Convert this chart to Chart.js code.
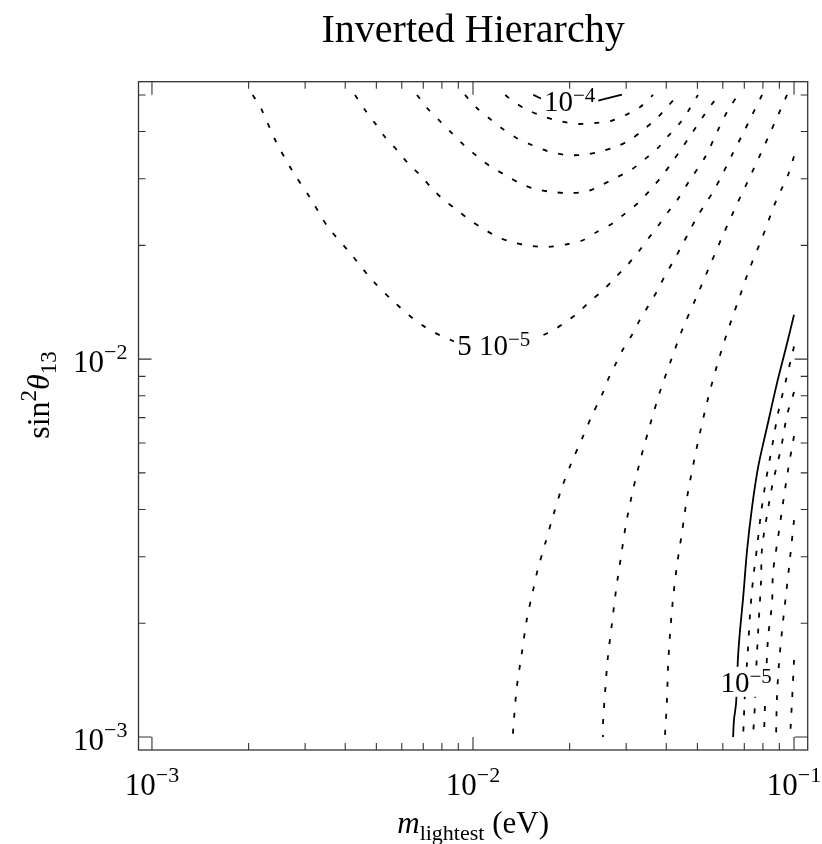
<!DOCTYPE html>
<html>
<head>
<meta charset="UTF-8">
<title>Inverted Hierarchy</title>
<script src="https://cdn.jsdelivr.net/npm/chart.js"></script>
<style>
    html, body { margin: 0; padding: 0; background: #fff; }
    #chart { display: block; }
</style>
</head>
<body>
<canvas id="chart" width="822" height="844"></canvas>
<script>
    // contours as [m_lightest (eV), sin^2 theta13]
    const arcTop = [[0.0154,0.050],[0.0171,0.0482],[0.0198,0.0473],[0.0223,0.0476],[0.0245,0.0483],[0.0267,0.0492],[0.0291,0.0501]];
    const arc2 = [[0.0126,0.050],[0.0133,0.0482],[0.0148,0.0456],[0.0168,0.0437],[0.0187,0.0426],[0.0211,0.0419],[0.0237,0.0421],[0.0267,0.0426],[0.0298,0.0442],[0.0331,0.0464],[0.0364,0.050]];
    const arc3 = [[0.00944,0.050],[0.0103,0.0461],[0.0113,0.0432],[0.0124,0.0406],[0.0137,0.0384],[0.0153,0.0368],[0.0171,0.0355],[0.0194,0.0347],[0.0219,0.0347],[0.0245,0.0353],[0.0277,0.0364],[0.0308,0.0380],[0.0339,0.0404],[0.0374,0.0434],[0.0405,0.0467],[0.0435,0.050]];
    const arc4 = [[0.00669,0.050],[0.00724,0.0459],[0.00789,0.0426],[0.0086,0.0396],[0.00938,0.0368],[0.0103,0.0344],[0.0113,0.0324],[0.0126,0.0307],[0.0140,0.0292],[0.0156,0.0282],[0.0176,0.0277],[0.0199,0.0275],[0.0227,0.0278],[0.0252,0.0289],[0.0281,0.0303],[0.0313,0.0318],[0.0343,0.0338],[0.0377,0.0362],[0.0405,0.0389],[0.0441,0.0421],[0.0474,0.0461],[0.0502,0.050]];
    const arc5 = [[0.00429,0.050],[0.00461,0.0456],[0.00495,0.0421],[0.00532,0.0387],[0.0058,0.0357],[0.00627,0.0330],[0.00684,0.0307],[0.00745,0.0283],[0.00806,0.0265],[0.00892,0.0248],[0.00979,0.0233],[0.0107,0.0222],[0.0120,0.0210],[0.0135,0.0203],[0.0153,0.0199],[0.0171,0.0198],[0.0194,0.0201],[0.0219,0.0206],[0.0243,0.0217],[0.0271,0.0228],[0.0298,0.0243],[0.0327,0.0259],[0.0356,0.0280],[0.0388,0.0305],[0.0417,0.0332],[0.0448,0.0362],[0.0481,0.0396],[0.0517,0.0434],[0.0555,0.0473],[0.0588,0.050]];
    const arc6 = [[0.00206,0.050],[0.00220,0.0456],[0.00242,0.0380],[0.00273,0.0316],[0.00311,0.0267],[0.00353,0.0224],[0.00414,0.0191],[0.00485,0.0162],[0.00571,0.0141],[0.00694,0.0123],[0.0086,0.0112],[0.0105,0.0108],[0.0121,0.0108],[0.0145,0.0111],[0.0174,0.0118],[0.0191,0.0124],[0.0211,0.0132],[0.0231,0.0142],[0.0254,0.0152],[0.0277,0.0164],[0.0302,0.0177],[0.0327,0.0192],[0.0351,0.0208],[0.0377,0.0225],[0.0405,0.0245],[0.0432,0.0263],[0.0474,0.0298],[0.0528,0.0342],[0.0580,0.0404],[0.0623,0.0456],[0.0669,0.050]];
    const rise1 = [[0.0795,0.050],[0.0740,0.0442],[0.0689,0.0391],[0.0641,0.0347],[0.0597,0.0307],[0.0559,0.0277],[0.0532,0.0259],[0.0499,0.0238],[0.0471,0.0217],[0.0445,0.0198],[0.0420,0.0181],[0.0396,0.0166],[0.0374,0.0151],[0.0351,0.0138],[0.0331,0.0127],[0.0313,0.0116],[0.0293,0.0106],[0.0277,0.00964],[0.0263,0.0088],[0.0252,0.00803],[0.0235,0.00711],[0.0219,0.00618],[0.0203,0.00534],[0.0189,0.00456],[0.0178,0.00387],[0.0168,0.00326],[0.0159,0.00277],[0.0154,0.00245],[0.0147,0.00204],[0.0142,0.00167],[0.0137,0.00136],[0.0134,0.0011],[0.0133,0.001]];
    const rise2 = [[0.0951,0.050],[0.0836,0.0391],[0.0740,0.0312],[0.0664,0.0257],[0.0601,0.0213],[0.0544,0.0175],[0.0495,0.0145],[0.0451,0.0121],[0.0414,0.00994],[0.0382,0.00818],[0.0356,0.00669],[0.0334,0.00551],[0.0315,0.0045],[0.0300,0.00368],[0.0289,0.0030],[0.0279,0.00245],[0.0271,0.0020],[0.0263,0.00162],[0.0258,0.00132],[0.0254,0.00108],[0.0254,0.001]];
    const rise3 = [[0.100,0.0344],[0.0958,0.0307],[0.0911,0.0280],[0.0866,0.0254],[0.0795,0.0209],[0.0724,0.0172],[0.0669,0.0142],[0.0618,0.0117],[0.0576,0.00964],[0.0540,0.00789],[0.0510,0.00641],[0.0485,0.00524],[0.0464,0.00429],[0.0448,0.00349],[0.0432,0.00285],[0.0420,0.00233],[0.0411,0.00188],[0.0405,0.00153],[0.0402,0.00125],[0.0396,0.001]];
    const solid1e5 = [[0.100,0.0131],[0.0951,0.0110],[0.0885,0.00864],[0.0824,0.00661],[0.0773,0.00518],[0.0740,0.00406],[0.0714,0.00312],[0.0694,0.00233],[0.0679,0.00192],[0.0669,0.00162],[0.0660,0.00123],[0.0650,0.00111],[0.0646,0.001]];
    const edge1 = [[0.100,0.0108],[0.0944,0.0088],[0.0892,0.0072],[0.0854,0.00585],[0.0818,0.00479],[0.0789,0.00391],[0.0767,0.00318],[0.0745,0.0026],[0.0729,0.0021],[0.0719,0.00172],[0.0704,0.00133],[0.0694,0.001]];
    const edge2 = [[0.100,0.00818],[0.0951,0.00711],[0.0911,0.00581],[0.0860,0.00473],[0.0824,0.00387],[0.0795,0.00316],[0.0789,0.00257],[0.0773,0.0019],[0.0761,0.00146],[0.0756,0.00123],[0.0745,0.001]];
    const edge3 = [[0.100,0.00626],[0.0958,0.00509],[0.0924,0.00416],[0.0892,0.00338],[0.0860,0.00272],[0.0854,0.00226],[0.0830,0.00183],[0.0818,0.00142],[0.0812,0.00122],[0.0806,0.001]];
    const edge4 = [[0.100,0.00375],[0.0972,0.00298],[0.0944,0.00238],[0.0918,0.00192],[0.0898,0.00157],[0.0885,0.00128],[0.0879,0.001]];
    const edge5 = [[0.100,0.0016],[0.0986,0.00125],[0.0972,0.001]];

    const dashedCurves = [arc2, arc3, arc4, arc5, arc6, rise1, rise2, rise3, edge1, edge2, edge3, edge4, edge5];
    const solidCurves = [arcTop, solid1e5];

    // contour labels: mantissa, exponent, where they sit
    const contourLabels = [
        {text: '10', sup: '\u22124', m: 0.0200, s: 0.0482},
        {text: '5 10', sup: '\u22125', m: 0.0116, s: 0.0109},
        {text: '10', sup: '\u22125', m: 0.0709, s: 0.0014}
    ];

    // axes
    const xMin = 0.000908, xMax = 0.1103;
    const yMin = 0.000924, yMax = 0.0542;
    const xMajor = [0.001, 0.01, 0.1];
    const xMajorLabels = ['\u22123', '\u22122', '\u22121'];
    const xMinor = [0.002, 0.003, 0.004, 0.005, 0.006, 0.007, 0.008, 0.009,
                    0.02, 0.03, 0.04, 0.05, 0.06, 0.07, 0.08, 0.09];
    const yMajor = [0.001, 0.01];
    const yMajorLabels = ['\u22123', '\u22122'];
    const yMinor = [0.002, 0.003, 0.004, 0.005, 0.006, 0.007, 0.008, 0.009, 0.02, 0.03, 0.04, 0.05];

    const SERIF = "'Liberation Serif', 'Times New Roman', 'DejaVu Serif', serif";

    function setFont(ctx, p) {
        ctx.font = (p[3] ? 'italic ' : '') + p[1] + 'px ' + SERIF;
    }

    function measurePieces(ctx, pieces) {
        let w = 0;
        pieces.forEach(p => { setFont(ctx, p); p.w = ctx.measureText(p[0]).width; w += p.w; });
        return w;
    }

    // draws a run of [text, size, rise, italic] pieces
    function drawPieces(ctx, pieces, x, y, align) {
        const w = measurePieces(ctx, pieces);
        let cx = align === 'center' ? x - w / 2 : (align === 'right' ? x - w : x);
        ctx.textAlign = 'left';
        ctx.textBaseline = 'alphabetic';
        pieces.forEach(p => {
            setFont(ctx, p);
            ctx.fillText(p[0], cx, y - p[2]);
            cx += p.w;
        });
    }

    const framePlugin = {
        id: 'mmaFrame',
        afterDatasetsDraw(chart) {
            const {ctx, chartArea: a} = chart;
            const xs = chart.scales.x, ys = chart.scales.y;
            ctx.save();

            // contour labels on white patches
            contourLabels.forEach(l => {
                const cx = xs.getPixelForValue(l.m);
                const cy = ys.getPixelForValue(l.s);
                const pieces = [[l.text, 29, 0], [l.sup, 21, 9]];
                const w = measurePieces(ctx, pieces);
                ctx.fillStyle = '#fff';
                ctx.fillRect(cx - w / 2 - 3, cy - 15, w + 6, 30);
                ctx.fillStyle = '#000';
                drawPieces(ctx, pieces, cx, cy + 10, 'center');
            });

            // frame
            ctx.strokeStyle = '#333';
            ctx.lineWidth = 1.3;
            ctx.strokeRect(a.left, a.top, a.right - a.left, a.bottom - a.top);

            // ticks on all four sides, pointing in
            ctx.lineWidth = 1.1;
            ctx.beginPath();
            const tx = (v, len) => {
                const p = xs.getPixelForValue(v);
                ctx.moveTo(p, a.bottom); ctx.lineTo(p, a.bottom - len);
                ctx.moveTo(p, a.top); ctx.lineTo(p, a.top + len);
            };
            const ty = (v, len) => {
                const p = ys.getPixelForValue(v);
                ctx.moveTo(a.left, p); ctx.lineTo(a.left + len, p);
                ctx.moveTo(a.right, p); ctx.lineTo(a.right - len, p);
            };
            xMajor.forEach(v => tx(v, 13));
            xMinor.forEach(v => tx(v, 7));
            yMajor.forEach(v => ty(v, 13));
            yMinor.forEach(v => ty(v, 7));
            ctx.stroke();

            ctx.fillStyle = '#000';
            // tick labels
            xMajor.forEach((v, i) => {
                drawPieces(ctx, [['10', 31, 0], [xMajorLabels[i], 22, 13]],
                    xs.getPixelForValue(v), a.bottom + 45, 'center');
            });
            yMajor.forEach((v, i) => {
                drawPieces(ctx, [['10', 31, 0], [yMajorLabels[i], 22, 13]],
                    a.left - 11, ys.getPixelForValue(v) + 13, 'right');
            });

            // title and axis titles
            const mid = (a.left + a.right) / 2;
            drawPieces(ctx, [['Inverted Hierarchy', 40, 0]], mid, 42, 'center');
            drawPieces(ctx, [['m', 31, 0, true], ['lightest', 22, -7], [' (eV)', 31, 0]], mid, 833, 'center');

            ctx.translate(49, 395);
            ctx.rotate(-Math.PI / 2);
            drawPieces(ctx, [['sin', 32, 0], ['2', 23, 13], ['\u03b8', 32, 0, true], ['13', 23, -7]], 0, 0, 'center');
            ctx.restore();
        }
    };

    const dashStyle = {borderColor: '#000', borderWidth: 1.8, borderDash: [5, 11], pointRadius: 0, showLine: true, tension: 0.3, fill: false};
    const solidStyle = {borderColor: '#000', borderWidth: 1.8, pointRadius: 0, showLine: true, tension: 0.3, fill: false};

    new Chart(document.getElementById('chart'), {
        type: 'scatter',
        data: {
            datasets: [
                ...dashedCurves.map(d => Object.assign({data: d}, dashStyle)),
                ...solidCurves.map(d => Object.assign({data: d}, solidStyle))
            ]
        },
        options: {
            responsive: false,
            animation: false,
            events: [],
            layout: {padding: {left: 138.5, right: 14.3, top: 81.7, bottom: 94}},
            plugins: {legend: {display: false}, tooltip: {enabled: false}},
            scales: {
                x: {type: 'logarithmic', min: xMin, max: xMax, bounds: 'data', display: false},
                y: {type: 'logarithmic', min: yMin, max: yMax, bounds: 'data', display: false}
            }
        },
        plugins: [framePlugin]
    });
</script>
</body>
</html>
